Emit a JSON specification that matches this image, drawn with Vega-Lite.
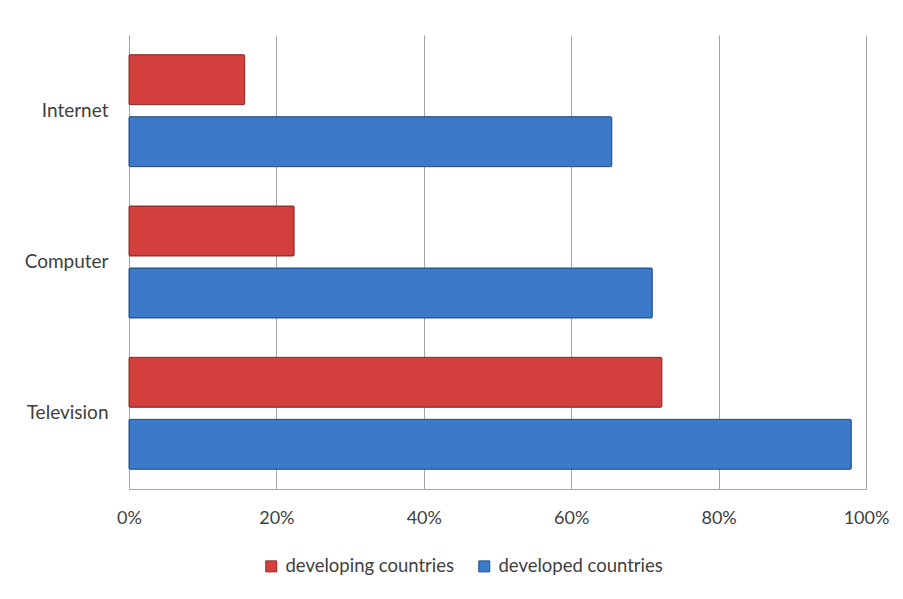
{
  "$schema": "https://vega.github.io/schema/vega-lite/v6.json",
  "width": 737,
  "height": 454,
  "autosize": {"type": "none"},
  "padding": {"left": 129, "top": 35, "right": 37, "bottom": 110},
  "background": "white",
  "config": {
    "font": "Lato",
    "view": {"stroke": null},
    "axis": {"labelFont": "Lato", "labelColor": "#404040"}
  },
  "data": {
    "values": [
      {"item": "Internet", "group": "developing countries", "value": 0.157},
      {"item": "Internet", "group": "developed countries", "value": 0.655},
      {"item": "Computer", "group": "developing countries", "value": 0.224},
      {"item": "Computer", "group": "developed countries", "value": 0.71},
      {"item": "Television", "group": "developing countries", "value": 0.723},
      {"item": "Television", "group": "developed countries", "value": 0.98}
    ]
  },
  "mark": {"type": "bar", "strokeWidth": 1, "cornerRadius": 1},
  "encoding": {
    "y": {
      "field": "item",
      "type": "nominal",
      "sort": ["Internet", "Computer", "Television"],
      "scale": {"paddingInner": 0.26, "paddingOuter": 0.13},
      "axis": {
        "title": null,
        "ticks": false,
        "domain": true,
        "domainColor": "#a6a6a6",
        "labelPadding": 21,
        "labelFontSize": 19
      }
    },
    "yOffset": {
      "field": "group",
      "type": "nominal",
      "sort": ["developing countries", "developed countries"],
      "scale": {"paddingInner": 0.194, "paddingOuter": 0}
    },
    "x": {
      "field": "value",
      "type": "quantitative",
      "scale": {"domain": [0, 1]},
      "axis": {
        "title": null,
        "format": "%",
        "values": [0, 0.2, 0.4, 0.6, 0.8, 1],
        "ticks": false,
        "domain": true,
        "domainColor": "#a6a6a6",
        "grid": true,
        "gridColor": "#a6a6a6",
        "gridWidth": 1,
        "labelPadding": 20,
        "labelFontSize": 18,
        "labelFlush": false
      }
    },
    "color": {
      "field": "group",
      "type": "nominal",
      "scale": {
        "domain": ["developing countries", "developed countries"],
        "range": ["#d33f3c", "#3b79c9"]
      },
      "legend": {
        "title": null,
        "orient": "none",
        "direction": "horizontal",
        "legendX": 133,
        "legendY": 522,
        "symbolType": "square",
        "symbolSize": 121,
        "symbolStrokeWidth": 1,
        "labelFont": "Lato",
        "labelFontSize": 18.5,
        "labelColor": "#404040",
        "labelOffset": 5,
        "labelLimit": 300,
        "columnPadding": 20
      }
    },
    "stroke": {
      "field": "group",
      "type": "nominal",
      "scale": {
        "domain": ["developing countries", "developed countries"],
        "range": ["#8e2a27", "#244f86"]
      },
      "legend": null
    }
  }
}
